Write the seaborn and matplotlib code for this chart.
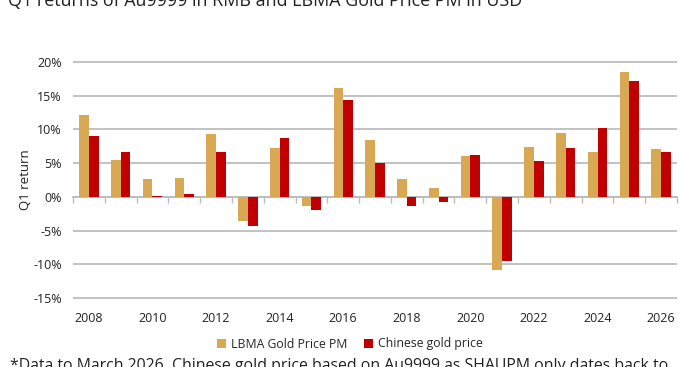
import matplotlib
matplotlib.use("Agg")
import matplotlib.pyplot as plt
from matplotlib.patches import Patch
import seaborn as sns
import pandas as pd
import numpy as np

years = [str(y) for y in range(2008, 2027)]
lbma = [12.1, 5.5, 2.6, 2.8, 9.35, -3.55, 7.3, -1.4, 16.1, 8.5, 2.6, 1.35, 6.1, -10.8, 7.45, 9.4, 6.7, 18.45, 7.1]
china = [9.0, 6.6, 0.1, 0.4, 6.6, -4.35, 8.75, -1.9, 14.3, 5.0, -1.35, -0.75, 6.2, -9.45, 5.25, 7.2, 10.2, 17.25, 6.7]
series_names = ["LBMA Gold Price PM", "Chinese gold price"]
colors = ["#D8A852", "#C00000"]
title = "Q1 returns of Au9999 in RMB and LBMA Gold Price PM in USD"
footnote = "*Data to March 2026. Chinese gold price based on Au9999 as SHAUPM only dates back to"

df = pd.DataFrame({
    "year": years * 2,
    "value": lbma + china,
    "series": [series_names[0]] * len(years) + [series_names[1]] * len(years),
})

sns.set_theme(style="white")
plt.rcParams["font.family"] = ["Open Sans", "DejaVu Sans"]

fig = plt.figure(figsize=(6.98, 3.67), dpi=100)
ax = fig.add_axes([73 / 698, 1 - 300 / 367, (677 - 73) / 698, (300 - 60) / 367])

sns.barplot(data=df, x="year", y="value", hue="series", palette=colors,
            width=0.61, ax=ax, legend=False, saturation=1, linewidth=0, edgecolor="none")

ax.set_ylim(-15.3, 20.3)
ax.set_xlim(-0.5, len(years) - 0.5)
ax.set_yticks(np.arange(-15, 21, 5))
ax.set_yticklabels([f"{int(v)}%" for v in np.arange(-15, 21, 5)])
ax.yaxis.grid(True, color="#BDBDBD", linewidth=1.3)
ax.set_axisbelow(True)
for s in ax.spines.values():
    s.set_visible(False)

ax.set_xticks(range(0, len(years), 2))
ax.set_xticklabels(years[::2])
ax.tick_params(axis="x", length=0, pad=9, labelsize=9, labelcolor="#222222")
ax.tick_params(axis="y", length=0, pad=8, labelsize=9, labelcolor="#222222")
ax.set_xlabel("")
ax.set_ylabel("Q1 return", fontsize=9.5, color="#222222", labelpad=1)

# zero line with boundary tick marks
sec = ax.secondary_xaxis(0, transform=ax.transData)
sec.set_xticks(np.arange(-0.5, len(years), 1.0))
sec.set_xticklabels([])
sec.tick_params(axis="x", direction="out", length=4, color="#BDBDBD", width=1)
sec.spines["bottom"].set_color("#BDBDBD")
sec.spines["bottom"].set_linewidth(1.3)
for k in ["top", "left", "right"]:
    sec.spines[k].set_visible(False)

handles = [Patch(facecolor=c, edgecolor="none") for c in colors]
fig.legend(handles, series_names, loc="center", bbox_to_anchor=(350 / 698, 1 - 344 / 367),
           ncol=2, frameon=False, fontsize=8.8, handlelength=0.7, handleheight=0.7,
           handletextpad=0.4, columnspacing=1.4)

fig.text(8 / 698, 1 - 6 / 367, title, fontsize=12.9, color="#222222", va="baseline", ha="left")
fig.text(10 / 698, 1 - 370 / 367, footnote, fontsize=11.4, color="#222222", va="baseline", ha="left")

fig.savefig("out.png", dpi=100, facecolor="white")
